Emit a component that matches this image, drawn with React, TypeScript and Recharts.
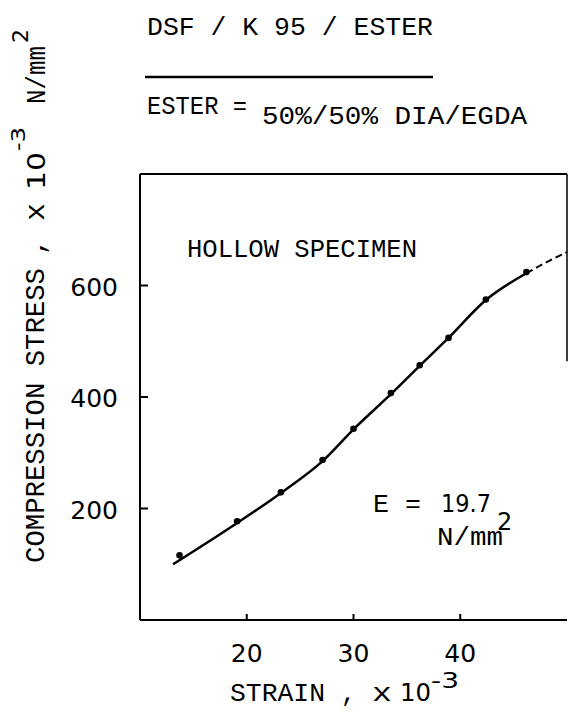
import React from 'react';
import { ComposedChart, Line, Scatter, XAxis, YAxis, ReferenceLine } from 'recharts';

const MONO = '"Liberation Mono", monospace';
const SANS = '"DejaVu Sans", sans-serif';

const strainTicks = [20, 30, 40];
const stressTicks = [200, 400, 600];

// measured points
const pointStrain = [13.7, 19.1, 23.2, 27.1, 30.0, 33.5, 36.2, 38.9, 42.4, 46.2];
const pointStress = [116, 177, 229, 287, 343, 407, 457, 506, 575, 624];

// drawn curve
const fitStrain = [13.1, 19.1, 23.2, 27.1, 30.0, 33.5, 36.2, 38.9, 42.4, 46.2];
const fitStress = [100, 174, 228, 285, 342, 405, 456, 506, 574, 622];

// dashed continuation
const extStrain = [46.2, 48.2, 50];
const extStress = [622, 643, 660];

const toRows = (xs: number[], ys: number[]) => xs.map((x, i) => ({ strain: x, stress: ys[i] }));
const points = toRows(pointStrain, pointStress);
const fit = toRows(fitStrain, fitStress);
const ext = toRows(extStrain, extStress);

const YTick = (props: any) => {
  const { x, y, payload } = props;
  return (
    <g>
      <line x1={x} x2={x + 8} y1={y} y2={y} stroke="#000" strokeWidth={2} />
      <text x={x - 22} y={y + 10} textAnchor="end" fontFamily={SANS} fontSize={25} fill="#000">
        {payload.value}
      </text>
    </g>
  );
};

const XTick = (props: any) => {
  const { x, y, payload } = props;
  return (
    <g>
      <line x1={x} x2={x} y1={y} y2={y - 6} stroke="#000" strokeWidth={2} />
      <text x={x} y={y + 42} textAnchor="middle" fontFamily={SANS} fontSize={25} fill="#000">
        {payload.value}
      </text>
    </g>
  );
};

const Dot = (props: any) => <circle cx={props.cx} cy={props.cy} r={3.3} fill="#000" />;

const Notes = () => (
  <g fill="#000">
    <text x={147} y={35} fontFamily={MONO} fontSize={26} textLength={286} lengthAdjust="spacingAndGlyphs">
      DSF / K 95 / ESTER
    </text>
    <line x1={145} x2={433} y1={77} y2={77} stroke="#000" strokeWidth={2.5} />
    <text x={147} y={114} fontFamily={MONO} fontSize={26} textLength={100} lengthAdjust="spacingAndGlyphs">
      ESTER =
    </text>
    <text x={262} y={124} fontFamily={MONO} fontSize={26} textLength={265} lengthAdjust="spacingAndGlyphs">
      50%/50% DIA/EGDA
    </text>
    <text x={187} y={257} fontFamily={MONO} fontSize={25} textLength={230} lengthAdjust="spacingAndGlyphs">
      HOLLOW SPECIMEN
    </text>
    <text x={373} y={512} fontFamily={MONO} fontSize={26} textLength={48} lengthAdjust="spacingAndGlyphs">
      E =
    </text>
    <text x={441} y={512} fontFamily={SANS} fontSize={25} textLength={50} lengthAdjust="spacingAndGlyphs">
      19.7
    </text>
    <text x={497} y={530} fontFamily={SANS} fontSize={24}>2</text>
    <text x={437} y={545} fontFamily={MONO} fontSize={26} textLength={66} lengthAdjust="spacingAndGlyphs">
      N/mm
    </text>
    <text x={230} y={701} fontFamily={MONO} fontSize={25} textLength={95} lengthAdjust="spacingAndGlyphs">
      STRAIN
    </text>
    <text x={341} y={701} fontFamily={MONO} fontSize={25}>,</text>
    <text x={372} y={701} fontFamily={MONO} fontSize={25} textLength={20} lengthAdjust="spacingAndGlyphs">x</text>
    <text x={400} y={701} fontFamily={SANS} fontSize={24} textLength={31} lengthAdjust="spacingAndGlyphs">10</text>
    <text x={431} y={688} fontFamily={SANS} fontSize={21} textLength={28} lengthAdjust="spacingAndGlyphs">-3</text>
    <g transform="translate(44, 0) rotate(-90)">
      <text x={-563} y={0} fontFamily={MONO} fontSize={27} textLength={295} lengthAdjust="spacingAndGlyphs">
        COMPRESSION STRESS
      </text>
      <text x={-255} y={0} fontFamily={MONO} fontSize={27}>,</text>
      <text x={-221} y={0} fontFamily={MONO} fontSize={27} textLength={18} lengthAdjust="spacingAndGlyphs">x</text>
      <text x={-190} y={1} fontFamily={SANS} fontSize={25} textLength={38} lengthAdjust="spacingAndGlyphs">10</text>
      <text x={-151} y={-19} fontFamily={SANS} fontSize={19} textLength={24} lengthAdjust="spacingAndGlyphs">-3</text>
      <text x={-104} y={1} fontFamily={MONO} fontSize={27} textLength={58} lengthAdjust="spacingAndGlyphs">
        N/mm
      </text>
      <text x={-43} y={-16} fontFamily={SANS} fontSize={22}>2</text>
    </g>
  </g>
);

export default function App() {
  return (
    <div style={{ position: 'absolute', left: 0, top: 0, width: 568, height: 718, background: '#fff' }}>
      <ComposedChart width={568} height={718} margin={{ top: 174, right: 1, bottom: 0, left: 0 }}>
        <XAxis
          type="number"
          dataKey="strain"
          domain={[10, 50]}
          ticks={strainTicks}
          height={98}
          allowDataOverflow
          axisLine={{ stroke: '#000', strokeWidth: 2 }}
          tickLine={false}
          tickSize={0}
          tickMargin={0}
          tick={<XTick />}
        />
        <YAxis
          type="number"
          dataKey="stress"
          domain={[0, 800]}
          ticks={stressTicks}
          width={140}
          allowDataOverflow
          axisLine={{ stroke: '#000', strokeWidth: 2 }}
          tickLine={false}
          tickSize={0}
          tickMargin={0}
          tick={<YTick />}
        />
        <ReferenceLine y={800} stroke="#000" strokeWidth={2} />
        <ReferenceLine segment={[{ x: 50, y: 464 }, { x: 50, y: 800 }]} stroke="#000" strokeWidth={1.5} />
        <Line data={fit} dataKey="stress" type="monotone" stroke="#000" strokeWidth={2.5} dot={false} isAnimationActive={false} />
        <Line data={ext} dataKey="stress" type="monotone" stroke="#000" strokeWidth={2} strokeDasharray="7 4" dot={false} isAnimationActive={false} />
        <Scatter data={points} dataKey="stress" fill="#000" shape={<Dot />} isAnimationActive={false} />
        <Notes />
      </ComposedChart>
    </div>
  );
}
